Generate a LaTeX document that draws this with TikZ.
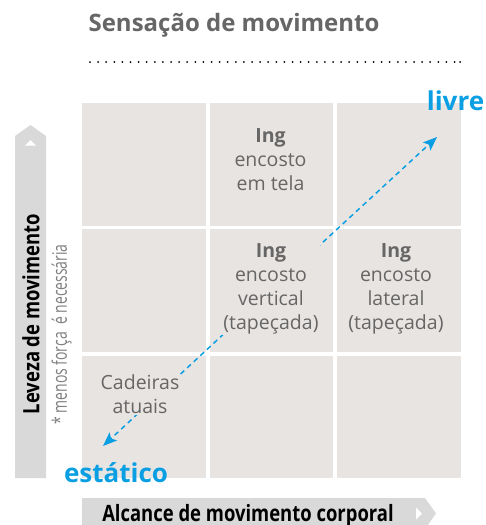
\documentclass[tikz,border=0pt]{standalone}
\usepackage{fontspec}
\setmainfont{Open Sans}
\usetikzlibrary{arrows.meta}
\definecolor{cellc}{HTML}{E8E4E2}
\definecolor{barc}{HTML}{D9D9D9}
\definecolor{azul}{HTML}{0A9FE2}
\definecolor{txtc}{HTML}{666666}
\definecolor{notec}{HTML}{808080}
\tikzset{
  cellbox/.style={fill=cellc, minimum width=123.5pt, minimum height=122.5pt, inner sep=0pt, outer sep=0pt},
  celltext/.style={fill=cellc, text=txtc, align=center, inner sep=1pt, font=\fontsize{19.5}{24}\selectfont},
  bluelabel/.style={text=azul, font=\fontsize{26}{28}\selectfont\bfseries, inner sep=0pt},
  flow/.style={azul, line width=1.5pt, dash pattern=on 5pt off 4pt, -{Stealth[length=14pt,width=11pt,inset=3pt]}},
  barlabel/.style={inner sep=0pt, font=\fontsize{22.5}{26}\selectfont\bfseries}
}
\begin{document}
\begin{tikzpicture}[x=1pt,y=-1pt]
\useasboundingbox (0,0) rectangle (486,525);
% title
\node[text=txtc, font=\fontsize{24}{28}\selectfont\bfseries, inner sep=0pt] (title) at (234,25) {Sensação de movimento};
\draw[black, line width=2pt, line cap=round, dash pattern=on 0pt off 8.1pt] (90,62) -- (456,62);
\coordinate (dotend) at (460,62);
\fill[black] (dotend) circle (1pt);
% cells
\node[cellbox] (c11) at (143.75,164.25) {};
\node[cellbox] (c21) at (271.25,164.25) {};
\node[cellbox] (c31) at (398.75,164.25) {};
\node[cellbox] (c12) at (143.75,290.5) {};
\node[cellbox] (c22) at (271.25,290.5) {};
\node[cellbox] (c32) at (398.75,290.5) {};
\node[cellbox] (c13) at (143.75,416.75) {};
\node[cellbox] (c23) at (271.25,416.75) {};
\node[cellbox] (c33) at (398.75,416.75) {};
% arrow
\coordinate (s) at (103,446);
\coordinate (l) at (437,137);
\coordinate (m) at (270,291);
\draw[flow] (m) -- (s);
\draw[flow] (m) -- (l);
% cell texts
\node[celltext] (t21) at (270.5,160) {\textbf{Ing}\\encosto\\em tela};
\node[celltext] (t22) at (271,289) {\textbf{Ing}\\encosto\\vertical\\(tapeçada)};
\node[celltext] (t32) at (396,289) {\textbf{Ing}\\encosto\\lateral\\(tapeçada)};
\node[celltext] (t13) at (140,394) {Cadeiras\\atuais};
% blue labels
\node[bluelabel] (livre) at (455.5,101) {livre};
\node[bluelabel] (estatico) at (116,473) {estático};
% left bar
\fill[barc] (15,478) -- (15,136) -- (30.5,125) -- (46,136) -- (46,478) -- cycle;
\fill[white] (25,145.5) -- (30.5,140) -- (36,145.5) -- cycle;
\node[barlabel, rotate=90] (leveza) at (31,314) {\scalebox{0.82}[1]{Leveza de movimento}};
\node[inner sep=0pt, rotate=90, text=notec, font=\fontsize{20}{22}\selectfont] (menos) at (61.5,334.5) {\scalebox{0.7}[1]{* menos força\ \ é necessária}};
% bottom bar
\fill[barc] (82,498) -- (425,498) -- (436,513.5) -- (425,529) -- (82,529) -- cycle;
\fill[white] (416,507.5) -- (422,513.5) -- (416,519.5) -- cycle;
\node[barlabel] (alcance) at (248,516) {\scalebox{0.82}[1]{Alcance de movimento corporal}};
\end{tikzpicture}
\end{document}
